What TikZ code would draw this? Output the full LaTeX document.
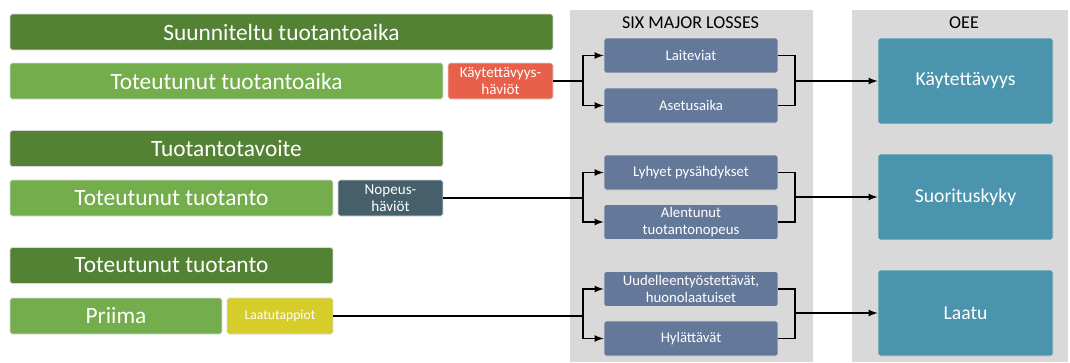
\documentclass[tikz,border=0pt]{standalone}
\usepackage{fontspec}
\setmainfont{Carlito}
\usetikzlibrary{positioning}

\definecolor{darkgreen}{HTML}{548235}
\definecolor{lightgreen}{HTML}{74AD4B}
\definecolor{lossred}{HTML}{E9604A}
\definecolor{lossslate}{HTML}{45606B}
\definecolor{lossyellow}{HTML}{D6CC2A}
\definecolor{lossblue}{HTML}{64799A}
\definecolor{oeeteal}{HTML}{4A95AD}
\definecolor{panelgray}{HTML}{D9D9D9}

\tikzset{
  bar/.style = {draw = white!85!black, line width = 0.4pt, rounded corners = 1pt, text = white, minimum height = 0.72cm, inner sep = 0pt},
  titlebar/.style = {bar, fill = darkgreen, font = \fontsize{13.3}{14}\selectfont},
  timebar/.style = {bar, fill = lightgreen, font = \fontsize{13.3}{14}\selectfont},
  lossbox/.style = {bar, minimum width = 2.1cm, font = \fontsize{8.6}{9.6}\selectfont, align = center},
  majorloss/.style = {bar, fill = lossblue, minimum width = 3.48cm, minimum height = 0.7cm, font = \fontsize{8.4}{9.4}\selectfont, align = center},
  oeebox/.style = {bar, fill = oeeteal, minimum width = 3.5cm, minimum height = 1.72cm, font = \fontsize{11.2}{12}\selectfont},
  arr/.style = {-latex, line width = 0.8pt},
  link/.style = {line width = 0.8pt}
}

\begin{document}
\begin{tikzpicture}[x = 0.02cm, y = -0.02cm]
\useasboundingbox (0,0) rectangle (1070,362);

% panels
\fill[panelgray] (570,10) rectangle (813,362);
\fill[panelgray] (852,10) rectangle (1068,362);
\node[font = \fontsize{10.3}{11}\selectfont] (sixtitle) at (690.5,23) {SIX MAJOR LOSSES};
\node[font = \fontsize{10.3}{11}\selectfont] (oeetitle) at (964,23) {OEE};

% left side bars
\node[titlebar, minimum width = 10.86cm] (suunniteltu) at (281.5,32) {Suunniteltu tuotantoaika};
\node[timebar, minimum width = 8.66cm] (toteutunutaika) at (226.5,81) {Toteutunut tuotantoaika};
\node[lossbox, fill = lossred, minimum width = 2.1cm] (kaythav) at (500.5,81) {Käytettävyys-\\häviöt};

\node[titlebar, minimum width = 8.66cm] (tavoite) at (226.5,148.5) {Tuotantotavoite};
\node[timebar, minimum width = 6.46cm] (toteutunut) at (171.5,198) {Toteutunut tuotanto};
\node[lossbox, fill = lossslate] (nopeus) at (390.5,198) {Nopeus-\\häviöt};

\node[titlebar, minimum width = 6.46cm] (toteutunut2) at (171.5,265.5) {Toteutunut tuotanto};
\node[timebar, minimum width = 4.24cm] (priima) at (116,316) {Priima};
\node[lossbox, fill = lossyellow, minimum width = 2.12cm, font = \fontsize{7.8}{8.8}\selectfont] (laatutap) at (280,316) {Laatutappiot};

% six major losses
\node[majorloss] (laiteviat) at (691,55.5) {Laiteviat};
\node[majorloss] (asetus) at (691,105.5) {Asetusaika};
\node[majorloss] (lyhyet) at (691,172.5) {Lyhyet pysähdykset};
\node[majorloss] (alentunut) at (691,222) {Alentunut\\tuotantonopeus};
\node[majorloss] (uudelleen) at (691,289) {Uudelleentyöstettävät,\\huonolaatuiset};
\node[majorloss] (hylattavat) at (691,338.5) {Hylättävät};

% oee
\node[oeebox] (kaytettavyys) at (965.5,81) {Käytettävyys};
\node[oeebox] (suoritus) at (965.5,197) {Suorituskyky};
\node[oeebox] (laatu) at (965.5,313) {Laatu};

% junctions
\coordinate (ja) at (583,81);
\coordinate (jb) at (583,198);
\coordinate (jc) at (583,316);
\coordinate (ka) at (795,81);
\coordinate (kb) at (795,197);
\coordinate (kc) at (795,313);

% connectors
\draw[link] (kaythav.east) -- (ja);
\draw[arr] (ja) |- (laiteviat.west);
\draw[arr] (ja) |- (asetus.west);
\draw[link] (laiteviat.east) -| (ka);
\draw[link] (asetus.east) -| (ka);
\draw[arr] (ka) -- (kaytettavyys.west);

\draw[link] (nopeus.east) -- (jb);
\draw[arr] (jb) |- (lyhyet.west);
\draw[arr] (jb) |- (alentunut.west);
\draw[link] (lyhyet.east) -| (kb);
\draw[link] (alentunut.east) -| (kb);
\draw[arr] (kb) -- (suoritus.west);

\draw[link] (laatutap.east) -- (jc);
\draw[arr] (jc) |- (uudelleen.west);
\draw[arr] (jc) |- (hylattavat.west);
\draw[link] (uudelleen.east) -| (kc);
\draw[link] (hylattavat.east) -| (kc);
\draw[arr] (kc) -- (laatu.west);
\end{tikzpicture}
\end{document}
